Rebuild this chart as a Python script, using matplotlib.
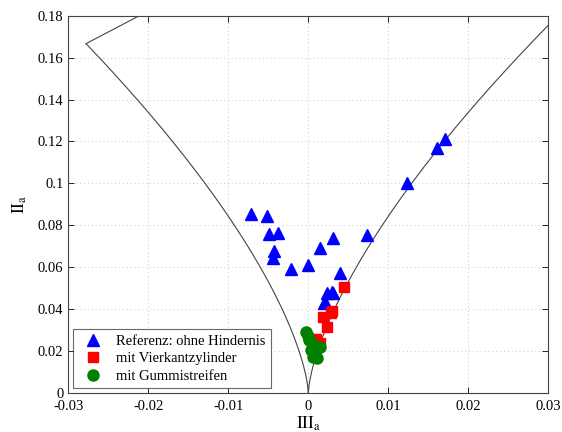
import matplotlib
matplotlib.use('Agg')
import matplotlib.pyplot as plt
import numpy as np

plt.rcParams['font.family'] = ['Liberation Serif', 'DejaVu Serif']
plt.rcParams['mathtext.fontset'] = 'stix'

# Referenz: ohne Hindernis (III_a, II_a)
ref_x = [-0.0072, -0.0052, -0.0049, -0.0038, -0.0043, -0.0044, -0.0022, -0.0001,
         0.0015, 0.0031, 0.0039, 0.0073, 0.0029, 0.0023, 0.0031, 0.0021, 0.0019,
         0.0123, 0.0161, 0.0171]
ref_y = [0.0852, 0.0843, 0.0760, 0.0763, 0.0678, 0.0643, 0.0592, 0.0611,
         0.0694, 0.0741, 0.0573, 0.0752, 0.0482, 0.0475, 0.0478, 0.0435, 0.0430,
         0.1000, 0.1167, 0.1210]

# mit Vierkantzylinder
vkz_x = [0.0044, 0.0030, 0.0028, 0.0018, 0.0023, 0.0010, 0.0014]
vkz_y = [0.0506, 0.0392, 0.0380, 0.0363, 0.0316, 0.0256, 0.0237]

# mit Gummistreifen
gum_x = [-0.0003, 0.0000, 0.0001, 0.0004, 0.0006, 0.0015, 0.0008, 0.0003, 0.0006, 0.0011]
gum_y = [0.0292, 0.0271, 0.0252, 0.0237, 0.0218, 0.0218, 0.0197, 0.0205, 0.0173, 0.0165]

# Lumley-Dreieck: Eckpunkt (2K-axisymmetrisch)
corner_x = -1.0 / 36.0

fig = plt.figure(figsize=(5.62, 4.32), dpi=100)
ax = fig.add_axes([0.1215, 0.0903, 0.8542, 0.8734])

# axisymmetrische Randkurven II = 6 (|III|/6)^(2/3)
t_left = np.linspace(corner_x, 0, 300)
ax.plot(t_left, 6 * (np.abs(t_left) / 6) ** (2 / 3), color='#444444', lw=0.8)
t_right = np.linspace(0, 0.03, 300)
ax.plot(t_right, 6 * (t_right / 6) ** (2 / 3), color='#444444', lw=0.8)
# Zweikomponenten-Linie II = 2/9 + 2 III
t_2c = np.linspace(corner_x, 0.0, 50)
ax.plot(t_2c, 2 / 9 + 2 * t_2c, color='#444444', lw=0.8)

ax.plot(ref_x, ref_y, '^', color='blue', ms=9, mec='blue', label='Referenz: ohne Hindernis')
ax.plot(vkz_x, vkz_y, 's', color='red', ms=7, mec='red', label='mit Vierkantzylinder')
ax.plot(gum_x, gum_y, 'o', color='green', ms=8, mec='green', label='mit Gummistreifen')

ax.set_xlim(-0.03, 0.03)
ax.set_ylim(0, 0.18)
ax.set_xticks([-0.03, -0.02, -0.01, 0, 0.01, 0.02, 0.03])
ax.set_xticklabels(['-0.03', '-0.02', '-0.01', '0', '0.01', '0.02', '0.03'])
ax.set_yticks(np.arange(0, 0.181, 0.02))
ax.set_yticklabels(['0', '0.02', '0.04', '0.06', '0.08', '0.1', '0.12', '0.14', '0.16', '0.18'])
ax.tick_params(direction='in', top=True, right=True, labelsize=10.5, length=4, width=0.6)
ax.tick_params(axis='x', pad=5)
ax.grid(True, linestyle=(0, (1, 3)), color='#c8c8c8', lw=0.7)
for s in ax.spines.values():
    s.set_linewidth(0.8)
    s.set_color('#444444')

ax.set_xlabel(r'$\mathrm{III}_{\mathrm{a}}$', fontsize=12.5, labelpad=1)
ax.set_ylabel(r'$\mathrm{II}_{\mathrm{a}}$', fontsize=12.5, labelpad=6)

leg = ax.legend(loc='lower left', fontsize=10.5, frameon=True, fancybox=False,
                edgecolor='#444444', borderaxespad=0.35, handletextpad=0.6,
                labelspacing=0.3, borderpad=0.35)
leg.get_frame().set_linewidth(0.8)

fig.savefig('out.png', dpi=100)
